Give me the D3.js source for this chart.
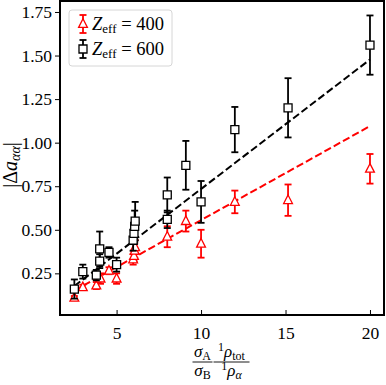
<!DOCTYPE html>
<html>
<head>
<meta charset="utf-8">
<script src="https://cdn.jsdelivr.net/npm/d3@7"></script>
<style>
  body { margin: 0; background: #fff; }
  text { font-family: "Liberation Serif", "DejaVu Serif", serif; }
</style>
</head>
<body>
<script>
// Z_eff = 600 (black squares)
const x600 = [2.5, 3.0, 3.8, 4.0, 4.0, 4.55, 5.0, 5.98, 6.03, 6.07, 6.1, 8.0, 8.0, 9.1, 10.0, 12.0, 15.15, 20.0];
const y600 = [0.16, 0.26, 0.24, 0.32, 0.39, 0.37, 0.30, 0.44, 0.48, 0.52, 0.55, 0.56, 0.70, 0.87, 0.66, 1.075, 1.20, 1.56];
const e600 = [0.055, 0.04, 0.03, 0.04, 0.10, 0.03, 0.04, 0.06, 0.06, 0.09, 0.11, 0.05, 0.10, 0.14, 0.12, 0.13, 0.17, 0.17];

// Z_eff = 400 (red triangles)
const x400 = [2.5, 3.0, 3.8, 4.05, 4.55, 5.0, 5.98, 6.03, 6.07, 6.1, 8.0, 9.1, 10.0, 12.0, 15.15, 20.0];
const y400 = [0.11, 0.17, 0.18, 0.22, 0.265, 0.22, 0.33, 0.35, 0.38, 0.40, 0.46, 0.55, 0.42, 0.66, 0.67, 0.85];
const e400 = [0.01, 0.015, 0.02, 0.03, 0.02, 0.03, 0.03, 0.03, 0.04, 0.04, 0.06, 0.06, 0.08, 0.065, 0.09, 0.085];

// linear fits
const fitX = [2.5, 20];
const fit600 = [0.177, 1.477];
const fit400 = [0.151, 1.095];

const xTicks = [5, 10, 15, 20];
const yTicks = [0.25, 0.5, 0.75, 1.0, 1.25, 1.5, 1.75];

const W = 386, H = 385;
const pLeft = 60, pRight = 384, pTop = 1, pBottom = 315;

const x = d3.scaleLinear().domain([1.65, 20.83]).range([pLeft, pRight]);
const y = d3.scaleLinear().domain([0.011, 1.813]).range([pBottom, pTop]);

const svg = d3.select("body").append("svg")
  .attr("width", W).attr("height", H);

// axes
const xAxis = d3.axisBottom(x).tickValues(xTicks).tickSizeInner(-5).tickSizeOuter(0)
  .tickPadding(12).tickFormat(d3.format("d"));
const gx = svg.append("g").attr("transform", `translate(0,${pBottom})`).call(xAxis);
gx.select(".domain").remove();
gx.selectAll("text").attr("font-size", 17.5).attr("fill", "#000")
  .style("font-family", "'Liberation Serif', serif");
gx.selectAll("line").attr("stroke", "#000");

const yAxis = d3.axisLeft(y).tickValues(yTicks).tickSizeInner(5).tickSizeOuter(0)
  .tickPadding(3).tickFormat(d3.format(".2f"));
const gy = svg.append("g").attr("transform", `translate(${pLeft},0)`).call(yAxis);
gy.select(".domain").remove();
gy.selectAll("text").attr("font-size", 17.5).attr("fill", "#000")
  .style("font-family", "'Liberation Serif', serif");
gy.selectAll("line").attr("stroke", "#000");

// fit lines
const line = d3.line().x(d => x(d[0])).y(d => y(d[1]));
svg.append("path").datum(fitX.map((v, i) => [v, fit600[i]]))
  .attr("d", line).attr("stroke", "#000").attr("stroke-width", 2)
  .attr("stroke-dasharray", "7.4,3.2").attr("fill", "none");
svg.append("path").datum(fitX.map((v, i) => [v, fit400[i]]))
  .attr("d", line).attr("stroke", "#ff0000").attr("stroke-width", 2)
  .attr("stroke-dasharray", "7.4,3.2").attr("fill", "none");

function errorbars(xs, ys, es, color) {
  const data = xs.map((v, i) => ({x: v, y: ys[i], e: es[i]}));
  const g = svg.append("g").attr("stroke", color).attr("stroke-width", 1.8);
  g.selectAll("line.v").data(data).join("line").attr("class", "v")
    .attr("x1", d => x(d.x)).attr("x2", d => x(d.x))
    .attr("y1", d => y(d.y - d.e)).attr("y2", d => y(d.y + d.e));
  g.selectAll("line.t").data(data).join("line").attr("class", "t")
    .attr("x1", d => x(d.x) - 3.5).attr("x2", d => x(d.x) + 3.5)
    .attr("y1", d => y(d.y + d.e)).attr("y2", d => y(d.y + d.e));
  g.selectAll("line.b").data(data).join("line").attr("class", "b")
    .attr("x1", d => x(d.x) - 3.5).attr("x2", d => x(d.x) + 3.5)
    .attr("y1", d => y(d.y - d.e)).attr("y2", d => y(d.y - d.e));
  return data;
}

const tri = "M0,-5.2L4.4,3.4L-4.4,3.4Z";
const sq = "M-4,-4H4V4H-4Z";

const d400 = errorbars(x400, y400, e400, "#ff0000");
svg.append("g").selectAll("path").data(d400).join("path")
  .attr("d", tri).attr("transform", d => `translate(${x(d.x)},${y(d.y)})`)
  .attr("fill", "#fff").attr("stroke", "#ff0000").attr("stroke-width", 1.3);

const d600 = errorbars(x600, y600, e600, "#000");
svg.append("g").selectAll("path").data(d600).join("path")
  .attr("d", sq).attr("transform", d => `translate(${x(d.x)},${y(d.y)})`)
  .attr("fill", "#fff").attr("stroke", "#000").attr("stroke-width", 1.3);

// frame
svg.append("rect").attr("x", pLeft).attr("y", pTop)
  .attr("width", pRight - pLeft).attr("height", pBottom - pTop)
  .attr("fill", "none").attr("stroke", "#000").attr("stroke-width", 2);

// legend
const lg = svg.append("g");
lg.append("rect").attr("x", 69).attr("y", 10).attr("width", 103).attr("height", 56)
  .attr("rx", 3).attr("fill", "#fff").attr("fill-opacity", 0.8)
  .attr("stroke", "#d6d6d6").attr("stroke-width", 1);
const legendItems = [
  {label: "400", color: "#ff0000", shape: tri, cy: 24},
  {label: "600", color: "#000", shape: sq, cy: 49}
];
legendItems.forEach(it => {
  const g = lg.append("g");
  g.append("line").attr("x1", 83).attr("x2", 83).attr("y1", it.cy - 9).attr("y2", it.cy + 9)
    .attr("stroke", it.color).attr("stroke-width", 1.8);
  [it.cy - 9, it.cy + 9].forEach(cy => g.append("line")
    .attr("x1", 79.5).attr("x2", 86.5).attr("y1", cy).attr("y2", cy)
    .attr("stroke", it.color).attr("stroke-width", 1.8));
  g.append("path").attr("d", it.shape).attr("transform", `translate(83,${it.cy})`)
    .attr("fill", "#fff").attr("stroke", it.color).attr("stroke-width", 1.3);
  const t = g.append("text").attr("x", 92).attr("y", it.cy + 6).attr("font-size", 18.5).attr("fill", "#000");
  t.append("tspan").attr("font-style", "italic").text("Z");
  t.append("tspan").attr("font-size", 13).attr("dy", 3).text("eff");
  t.append("tspan").attr("dy", -3).text(" = " + it.label);
});

// y label
const yl = svg.append("text").attr("transform", "translate(17,165) rotate(-90)")
  .attr("text-anchor", "middle").attr("font-size", 20).attr("fill", "#000");
yl.append("tspan").text("|Δ");
yl.append("tspan").attr("font-style", "italic").text("a");
yl.append("tspan").attr("font-style", "italic").attr("font-size", 14).attr("dy", 3).text("αα");
yl.append("tspan").attr("dy", -3).text("|");

// x label: sigma_A/sigma_B * 1rho_tot / 1rho_alpha
const xl = svg.append("g").attr("fill", "#000");
function frac(cx, num, den, bw) {
  xl.append("line").attr("x1", cx - bw / 2).attr("x2", cx + bw / 2)
    .attr("y1", 362).attr("y2", 362).attr("stroke", "#000").attr("stroke-width", 0.9);
  const n = xl.append("text").attr("x", cx).attr("y", 357).attr("text-anchor", "middle").attr("font-size", 17);
  num(n);
  const d = xl.append("text").attr("x", cx).attr("y", 376).attr("text-anchor", "middle").attr("font-size", 17);
  den(d);
}
frac(202.5, t => {
  t.append("tspan").attr("font-style", "italic").text("σ");
  t.append("tspan").attr("font-size", 12).attr("dy", 3).text("A");
}, t => {
  t.append("tspan").attr("font-style", "italic").text("σ");
  t.append("tspan").attr("font-size", 12).attr("dy", 3).text("B");
}, 20);
frac(231.5, t => {
  t.append("tspan").attr("font-size", 12).attr("dy", -6).text("1");
  t.append("tspan").attr("font-style", "italic").attr("dy", 6).text("ρ");
  t.append("tspan").attr("font-size", 12).attr("dy", 3).text("tot");
}, t => {
  t.append("tspan").attr("font-size", 12).attr("dy", -6).text("1");
  t.append("tspan").attr("font-style", "italic").attr("dy", 6).text("ρ");
  t.append("tspan").attr("font-style", "italic").attr("font-size", 12).attr("dy", 3).text("α");
}, 36);
</script>
</body>
</html>
